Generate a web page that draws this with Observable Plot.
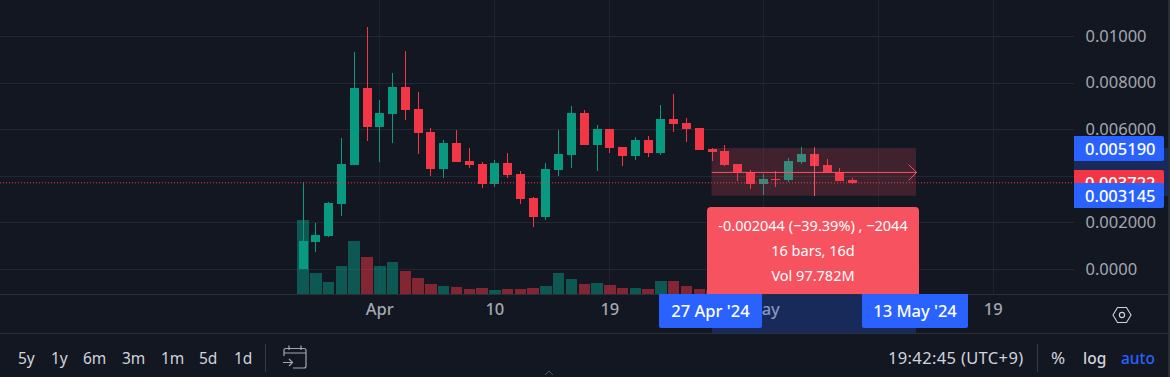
<!DOCTYPE html>
<html><head><meta charset="utf-8">
<script src="https://cdn.jsdelivr.net/npm/d3@7"></script>
<script src="https://cdn.jsdelivr.net/npm/@observablehq/plot@0.6"></script>
<style>
html,body{margin:0;padding:0;background:#131722;overflow:hidden}
#wrap{position:relative;width:1170px;height:377px;font-family:"Noto Sans",sans-serif;color:#b2b5be}
#wrap svg{display:block}
.o{position:absolute;white-space:nowrap}
.tag{color:#fff;font-size:16.5px;font-weight:500;border-radius:0 2px 2px 0;display:flex;align-items:center}
.bt{position:absolute;top:348px;font-size:15.5px;line-height:20px;color:#d1d4dc}
</style></head><body><div id="wrap"></div>
<script>
const startDate = "2024-03-26";
const opens  = [0.00000,0.00116,0.00142,0.00279,0.00446,0.00777,0.00610,0.00665,0.00781,0.00687,0.00588,0.00429,0.00541,0.00464,0.00451,0.00365,0.00455,0.00408,0.00305,0.00223,0.00425,0.00489,0.00670,0.00532,0.00601,0.00524,0.00485,0.00554,0.00498,0.00644,0.00627,0.00605,0.00515,0.00507,0.00451,0.00416,0.00365,0.00386,0.00382,0.00459,0.00494,0.00446,0.00416,0.00382];
const highs  = [0.00372,0.00197,0.00288,0.00562,0.00931,0.01039,0.00725,0.00841,0.00936,0.00760,0.00605,0.00554,0.00597,0.00519,0.00459,0.00468,0.00498,0.00421,0.00309,0.00455,0.00597,0.00700,0.00682,0.00618,0.00601,0.00524,0.00567,0.00571,0.00704,0.00751,0.00648,0.00605,0.00519,0.00532,0.00451,0.00425,0.00408,0.00421,0.00476,0.00524,0.00524,0.00472,0.00434,0.00391];
const lows   = [0.00000,0.00073,0.00137,0.00228,0.00446,0.00549,0.00459,0.00541,0.00640,0.00494,0.00399,0.00391,0.00459,0.00434,0.00348,0.00352,0.00391,0.00279,0.00180,0.00210,0.00399,0.00434,0.00532,0.00421,0.00498,0.00442,0.00468,0.00481,0.00489,0.00588,0.00545,0.00511,0.00464,0.00442,0.00378,0.00343,0.00318,0.00352,0.00373,0.00451,0.00313,0.00416,0.00378,0.00365];
const closes = [0.00120,0.00146,0.00283,0.00451,0.00777,0.00610,0.00670,0.00781,0.00682,0.00584,0.00429,0.00541,0.00459,0.00446,0.00365,0.00455,0.00403,0.00300,0.00223,0.00429,0.00494,0.00670,0.00532,0.00601,0.00519,0.00485,0.00554,0.00498,0.00644,0.00622,0.00601,0.00511,0.00502,0.00446,0.00416,0.00365,0.00386,0.00382,0.00464,0.00494,0.00442,0.00416,0.00378,0.00369];
const volumes = [74,21,12,28,53,37,28,32,23,16,10,8,7,5,6,4,5,5,6,8,21,15,10,11,9,6,6,5,13,13,8,5,4,6,5,7,5,3,9,6,10,5,5,2];
const volumeBase = -0.00107, volumeUnit = 0.0000429;
const priceTicks = [0.01, 0.008, 0.006, 0.004, 0.002, 0];
const priceLabels = ["0.01000","0.008000","0.006000","0.004000","0.002000","0.0000"];
const timeTicks = ["2024-04-01","2024-04-10","2024-04-19","2024-05-01","2024-05-10","2024-05-19"];
const timeLabels = ["Apr","10","19","May","10","19"];
const lastPrice = 0.003722;
const rangeStart = "2024-04-27", rangeEnd = "2024-05-13", rangeTop = 0.00519, rangeBottom = 0.003145;
const tooltipLines = ["-0.002044 (−39.39%) , −2044","16 bars, 16d","Vol 97.782M"];
const presets = [["5y",18],["1y",51],["6m",83],["3m",122],["1m",161],["5d",199],["1d",234]];

const GREEN="#089981", RED="#f23645", GRID="#232733", VGRID="#1e222d", MEASURE="#f7525f";
const DAY=864e5, T=d=>new Date(d+"T00:00:00Z");
const apr1=+T("2024-04-01");
const bars = opens.map((o,i)=>({date:new Date(+T(startDate)+i*DAY),o,h:highs[i],l:lows[i],c:closes[i],v:volumes[i],col:closes[i]>=o?GREEN:RED}));
const crisp={shapeRendering:"crispEdges"};
const mid=(rangeTop+rangeBottom)/2;

const plot = Plot.plot({
  width:1170,height:333,marginTop:0,marginLeft:0,marginRight:96,marginBottom:39,
  style:{background:"#131722",fontFamily:'"Noto Sans",sans-serif',fontSize:"16.5px",color:"#b2b5be"},
  x:{type:"utc",domain:[new Date(apr1-29.68*DAY),new Date(apr1+54.36*DAY)],range:[0,1074]},
  y:{domain:[volumeBase,0.011545],range:[294,0]},
  marks:[
    Plot.ruleY(priceTicks,{stroke:GRID,strokeWidth:1,...crisp}),
    Plot.ruleX(timeTicks.map(T),{stroke:VGRID,strokeWidth:1,...crisp}),
    Plot.ruleX(bars,{x:"date",y1:d=>volumeBase,y2:d=>volumeBase+d.v*volumeUnit,stroke:"col",strokeOpacity:0.5,strokeWidth:11.5,...crisp}),
    Plot.ruleX(bars,{x:"date",y1:"l",y2:"h",stroke:"col",strokeWidth:1,...crisp}),
    Plot.ruleX(bars,{x:"date",y1:"o",y2:"c",stroke:"col",strokeWidth:9,...crisp}),
    Plot.ruleY([lastPrice],{stroke:RED,strokeWidth:1,strokeDasharray:"1,2"}),
    Plot.rect([0],{x1:()=>T(rangeStart),x2:()=>T(rangeEnd),y1:()=>rangeBottom,y2:()=>rangeTop,fill:MEASURE,fillOpacity:0.2}),
    Plot.arrow([0],{x1:()=>T(rangeStart),x2:()=>T(rangeEnd),y1:()=>mid,y2:()=>mid,stroke:MEASURE,strokeWidth:1,bend:0,headLength:16,headAngle:90}),
    Plot.ruleX([new Date(+T("2024-05-05"))],{y1:rangeBottom,y2:rangeTop,stroke:MEASURE,strokeWidth:1,...crisp}),
    Plot.axisY({anchor:"right",ticks:priceTicks,tickSize:0,tickPadding:11,label:null,tickFormat:v=>priceLabels[priceTicks.indexOf(v)],fill:"#a4a7b0"}),
    Plot.axisX({anchor:"bottom",ticks:timeTicks.map(T),tickSize:0,tickPadding:9,label:null,tickFormat:(d,i)=>timeLabels[timeTicks.indexOf(d.toISOString().slice(0,10))],fill:"#a4a7b0",fontWeight:500})
  ]
});
const wrap=document.getElementById("wrap");
wrap.appendChild(plot);
const X=plot.scale("x"), Y=plot.scale("y");
const px=d=>X.apply(T(d)), py=v=>Y.apply(v);
function box(css,html,cls){const e=document.createElement("div");e.className=cls||"o";e.style.cssText=css;if(html!=null)e.innerHTML=html;wrap.appendChild(e);return e;}

box("left:0;top:294px;width:1168px;height:1px;background:#2a2e39");
box("left:0;top:333px;width:1168px;height:1px;background:#2a2e39");
box("left:1168px;top:0;width:2px;height:377px;background:#2a2e39");
const yTop=py(rangeTop), yBot=py(rangeBottom), xs=px(rangeStart), xe=px(rangeEnd);
box(`left:1074px;top:${yTop}px;width:94px;height:${yBot-yTop}px;background:rgba(41,98,255,.25)`);
box(`left:${xs}px;top:295px;width:${xe-xs}px;height:38px;background:rgba(41,98,255,.25)`);
box(`left:707px;top:207px;width:212px;height:87px;background:${MEASURE};border-radius:4px 4px 0 0;color:#fff;text-align:center;font-size:14.5px;line-height:25px;padding-top:6px;box-sizing:border-box`,tooltipLines.join("<br>"));
const tagFmt=(label,x,w)=>box(`left:${x-w/2}px;top:294px;width:${w}px;height:34px;background:#2962ff;color:#fff;font-size:16.5px;font-weight:500;text-align:center;line-height:34px;border-radius:0 0 2px 2px`,label);
tagFmt("27 Apr '24",710.5,103);
tagFmt("13 May '24",915,106);
const ptag=(txt,v,bg)=>box(`left:1074px;top:${py(v)-12.5}px;width:90px;height:25px;background:${bg};padding-left:11px;box-sizing:border-box`,txt,"o tag");
ptag("0.003722",lastPrice-0.00001,RED);
ptag("0.005190",rangeTop,"#2962ff");
ptag("0.003145",rangeBottom,"#2962ff");
presets.forEach(([t,x])=>box(`left:${x}px`,t,"bt"));
box("left:265px;top:344px;width:1px;height:28px;background:#363a45");
box("left:1037px;top:344px;width:1px;height:28px;background:#363a45");
box("left:888px;font-size:16.5px;letter-spacing:.35px",`19:42:45 (UTC+9)`,"bt");
box("left:1051px;font-size:17px",`%`,"bt");
box("left:1083px;font-weight:500",`log`,"bt");
box("left:1121px;color:#2962ff;font-weight:500",`auto`,"bt");
box("left:282px;top:344px;line-height:0",`<svg width="26" height="26" viewBox="0 0 26 26" fill="none" stroke="#a4a7b0" stroke-width="1.2"><path d="M2 12V6.5Q2 4.5 4 4.5H22Q24 4.5 24 6.5V22Q24 24 22 24H11M2 9H24M7 1.5V6M19 1.5V6M1 18.5H10M7 15L10.5 18.5L7 22"/></svg>`);
box("left:1112px;top:305px;line-height:0",`<svg width="20" height="20" viewBox="0 0 20 20" fill="none" stroke="#d1d4dc" stroke-width="1.1"><path d="M1 10L5.5 2.5H14.5L19 10L14.5 17.5H5.5Z"/><circle cx="10" cy="10" r="2.6"/></svg>`);
box("left:544px;top:369px;line-height:0",`<svg width="10" height="8" fill="none" stroke="#50535e"><path d="M1 6L5 2L9 6"/></svg>`);
</script></body></html>
